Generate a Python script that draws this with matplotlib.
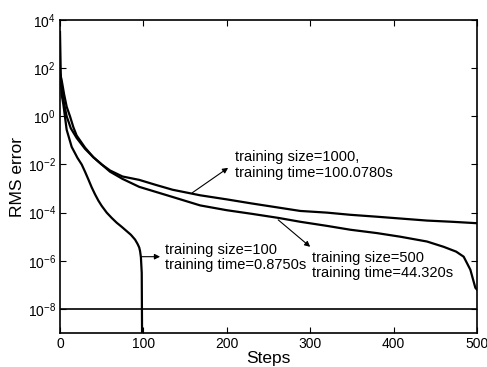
import numpy as np
import matplotlib
matplotlib.use('Agg')
import matplotlib.pyplot as plt

plt.rcParams['font.family'] = ['Liberation Sans', 'DejaVu Sans']
plt.rcParams['mathtext.fontset'] = 'custom'
plt.rcParams['mathtext.rm'] = 'Liberation Sans'

# RMS error (log10) against training step for each training size
steps_100 = [0, 1, 2, 4, 8, 14, 21, 26, 30, 34, 38, 42, 46, 50, 56, 62, 68,
             74, 80, 85, 90, 93, 95, 96, 97, 98, 99]
log_err_100 = [3.5, 1.6, 0.9, 0.5, -0.56, -1.27, -1.73, -2.0, -2.3, -2.62,
               -2.95, -3.24, -3.5, -3.72, -4.0, -4.22, -4.42, -4.59, -4.77,
               -4.92, -5.12, -5.3, -5.45, -5.6, -5.85, -6.5, -13.0]

steps_500 = [0, 2, 5, 8, 12, 16, 20, 30, 40, 50, 60, 75, 95, 115, 135, 168,
             200, 230, 262, 288, 320, 348, 380, 408, 440, 460, 475, 484, 492,
             498, 500]
log_err_500 = [1.8, 1.5, 0.9, 0.4, 0.0, -0.45, -0.8, -1.3, -1.7, -2.0, -2.3,
               -2.6, -2.93, -3.14, -3.35, -3.70, -3.90, -4.05, -4.22, -4.38,
               -4.55, -4.71, -4.85, -5.0, -5.2, -5.42, -5.62, -5.83, -6.37,
               -7.12, -7.2]

steps_1000 = [0, 2, 5, 8, 13, 20, 30, 40, 50, 60, 75, 95, 115, 135, 168, 200,
              230, 260, 288, 320, 348, 380, 410, 440, 470, 500]
log_err_1000 = [1.7, 1.2, 0.5, 0.0, -0.5, -0.9, -1.35, -1.7, -2.0, -2.25,
                -2.5, -2.64, -2.85, -3.05, -3.28, -3.45, -3.62, -3.78, -3.93,
                -4.0, -4.09, -4.17, -4.25, -4.33, -4.38, -4.44]

target_err = 1e-8
xticks = [0, 100, 200, 300, 400, 500]
yticks = [1e4, 1e2, 1e0, 1e-2, 1e-4, 1e-6, 1e-8]

fig = plt.figure(figsize=(4.87, 3.67), dpi=100)
ax = fig.add_axes([0.1232, 0.0926, 0.8563, 0.8529])

for s, e in [(steps_100, log_err_100), (steps_500, log_err_500),
             (steps_1000, log_err_1000)]:
    ax.plot(s, 10.0 ** np.array(e), color='k', lw=1.6)

ax.axhline(target_err, color='k', lw=1.2)

ax.set_yscale('log')
ax.set_xlim(0, 500)
ax.set_ylim(1e-9, 1e4)
ax.set_xticks(xticks)
ax.set_yticks(yticks)
ax.minorticks_off()
ax.tick_params(direction='in', length=4, width=0.8, top=True, right=True,
               labelsize=10, pad=3)
for sp in ax.spines.values():
    sp.set_linewidth(1.2)

ax.set_xlabel('Steps', fontsize=12.5, labelpad=0)
ax.set_ylabel('RMS error', fontsize=12.5, labelpad=2)

arrow = dict(arrowstyle='-|>', lw=0.8, color='k', mutation_scale=8,
             shrinkA=0, shrinkB=0)
ax.annotate('', xy=(201.6, 10 ** -2.14), xytext=(158.4, 10 ** -3.18),
            arrowprops=arrow)
ax.text(210, 10 ** -2.02, 'training size=1000,\ntraining time=100.0780s',
        fontsize=10.5, va='center', ha='left', linespacing=1.1)

ax.annotate('', xy=(300, 10 ** -5.42), xytext=(261.6, 10 ** -4.30),
            arrowprops=arrow)
ax.text(302.4, 10 ** -6.19, 'training size=500\ntraining time=44.320s',
        fontsize=10.5, va='center', ha='left', linespacing=1.1)

ax.annotate('', xy=(120, 10 ** -5.83), xytext=(98.4, 10 ** -5.83),
            arrowprops=arrow)
ax.text(126, 10 ** -5.88, 'training size=100\ntraining time=0.8750s',
        fontsize=10.5, va='center', ha='left', linespacing=1.1)

fig.savefig('out.png', dpi=100)
